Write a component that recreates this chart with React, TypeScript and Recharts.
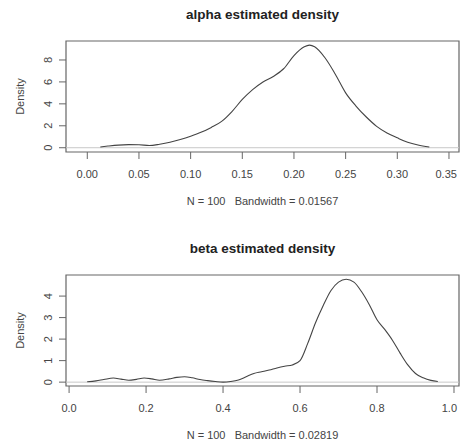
import {
  LineChart,
  Line,
  XAxis,
  YAxis,
  ReferenceArea,
  ReferenceLine,
  Label,
} from "recharts";

// alpha: kernel density estimate
const alphaX = [
  0.0126, 0.02, 0.03, 0.04, 0.05, 0.06, 0.07, 0.08, 0.09, 0.1, 0.11, 0.12, 0.13,
  0.14, 0.15, 0.16, 0.17, 0.18, 0.19, 0.2, 0.21, 0.215, 0.22, 0.23, 0.24, 0.25,
  0.26, 0.27, 0.28, 0.29, 0.3, 0.31, 0.32, 0.331,
];
const alphaDensity = [
  0.07, 0.15, 0.24, 0.28, 0.27, 0.2, 0.32, 0.5, 0.75, 1.05, 1.4, 1.85, 2.4, 3.3,
  4.4, 5.3, 6.0, 6.5, 7.2, 8.4, 9.2, 9.35, 9.2, 8.2, 6.7, 5.0, 3.8, 2.8, 1.95,
  1.35, 0.9, 0.5, 0.25, 0.07,
];
const alphaTicksX = [0, 0.05, 0.1, 0.15, 0.2, 0.25, 0.3, 0.35];
const alphaTicksY = [0, 2, 4, 6, 8];

// beta
const betaX = [
  0.047, 0.07, 0.09, 0.115, 0.135, 0.155, 0.175, 0.195, 0.215, 0.235, 0.26,
  0.28, 0.3, 0.32, 0.34, 0.36, 0.38, 0.4, 0.42, 0.44, 0.46, 0.48, 0.5, 0.52,
  0.54, 0.56, 0.58, 0.6, 0.62, 0.64, 0.66, 0.68, 0.7, 0.72, 0.74, 0.76, 0.78,
  0.8, 0.82, 0.84, 0.86, 0.88, 0.9, 0.92, 0.94, 0.958,
];
const betaDensity = [
  0.02, 0.06, 0.12, 0.19, 0.14, 0.09, 0.13, 0.19, 0.15, 0.09, 0.15, 0.22, 0.25,
  0.2, 0.12, 0.07, 0.03, 0.0, 0.03, 0.1, 0.25, 0.4, 0.48, 0.56, 0.66, 0.74,
  0.8, 1.0, 1.8, 2.75, 3.55, 4.25, 4.65, 4.78, 4.65, 4.2, 3.6, 2.9, 2.45, 1.95,
  1.35, 0.8, 0.4, 0.2, 0.08, 0.03,
];
const betaTicksX = [0, 0.2, 0.4, 0.6, 0.8, 1.0];
const betaTicksY = [0, 1, 2, 3, 4];

const FONT = "'Liberation Sans', Arial, sans-serif";
const INK = "#444";

function YTick(props: any) {
  const { x, y, payload } = props;
  return (
    <text
      transform={`translate(${x - 9},${y}) rotate(-90)`}
      textAnchor="middle"
      dy="0.35em"
      fontSize={11}
      fontFamily={FONT}
      fill={INK}
    >
      {payload.value}
    </text>
  );
}

// x tick text, kept inside the window at the right edge
function makeXTick(digits: number) {
  return function XTick(props: any) {
    const { x, y, payload } = props;
    const s = Number(payload.value).toFixed(digits);
    const half = s.length * 3.2;
    const cx = Math.min(x, 459 - half);
    return (
      <text
        x={cx}
        y={y}
        dy="0.71em"
        textAnchor="middle"
        fontSize={11}
        fontFamily={FONT}
        fill={INK}
      >
        {s}
      </text>
    );
  };
}

function DensityLabel(props: any) {
  const vb = props.viewBox;
  const cx = vb.x + 20;
  const cy = vb.y + vb.height / 2;
  return (
    <text
      transform={`translate(${cx},${cy}) rotate(-90)`}
      textAnchor="middle"
      dy="0.35em"
      fontSize={11}
      fontFamily={FONT}
      fill={INK}
    >
      Density
    </text>
  );
}

function makeSubLabel(sub: string) {
  return function SubLabel(props: any) {
    const vb = props.viewBox;
    return (
      <text
        x={vb.x + vb.width / 2}
        y={vb.y + 49}
        dy="0.35em"
        textAnchor="middle"
        xmlSpace="preserve"
        style={{ whiteSpace: "pre" }}
        fontSize={11}
        fontFamily={FONT}
        fill={INK}
      >
        {sub}
      </text>
    );
  };
}

interface PanelProps {
  title: string;
  sub: string;
  xs: number[];
  ys: number[];
  xDomain: [number, number];
  yDomain: [number, number];
  xTicks: number[];
  yTicks: number[];
  digits: number;
  height: number;
  top: number;
}

function DensityPanel(p: PanelProps) {
  const data = p.xs.map((x, i) => ({ x, d: p.ys[i] }));
  const xAxisH = p.height - p.top - 111;
  return (
    <div style={{ position: "relative", width: 460, height: p.height }}>
      <div
        style={{
          position: "absolute",
          left: 66,
          width: 393,
          top: p.top - 34,
          textAlign: "center",
          fontFamily: FONT,
          fontWeight: "bold",
          fontSize: 13.5,
          lineHeight: "15px",
          color: "#222",
        }}
      >
        {p.title}
      </div>
      <LineChart
        width={460}
        height={p.height}
        data={data}
        margin={{ top: p.top, right: 1, left: 0, bottom: 0 }}
      >
        <XAxis
          type="number"
          dataKey="x"
          domain={p.xDomain}
          allowDataOverflow
          ticks={p.xTicks}
          tickSize={7}
          tickMargin={11}
          axisLine={false}
          tickLine={{ stroke: "#666" }}
          tick={makeXTick(p.digits)}
          height={xAxisH}
          interval={0}
        >
          <Label content={makeSubLabel(p.sub)} />
        </XAxis>
        <YAxis
          type="number"
          domain={p.yDomain}
          allowDataOverflow
          ticks={p.yTicks}
          tickSize={7}
          axisLine={false}
          tickLine={{ stroke: "#666" }}
          tick={YTick}
          width={66}
          interval={0}
        >
          <Label content={DensityLabel} />
        </YAxis>
        <ReferenceLine y={0} stroke="#c8c8c8" strokeWidth={1} />
        <ReferenceArea
          x1={p.xDomain[0]}
          x2={p.xDomain[1]}
          y1={p.yDomain[0]}
          y2={p.yDomain[1]}
          fill="none"
          stroke="#666"
          strokeWidth={1.2}
          ifOverflow="visible"
        />
        <Line
          type="monotone"
          dataKey="d"
          stroke="#444"
          strokeWidth={1.1}
          dot={false}
          isAnimationActive={false}
        />
      </LineChart>
    </div>
  );
}

export default function App() {
  return (
    <div
      style={{
        position: "absolute",
        left: 0,
        top: 0,
        width: 460,
        height: 445,
        background: "#fff",
        overflow: "hidden",
      }}
    >
      <DensityPanel
        title="alpha estimated density"
        sub="N = 100   Bandwidth = 0.01567"
        xs={alphaX}
        ys={alphaDensity}
        xDomain={[-0.0206, 0.3597]}
        yDomain={[-0.39, 9.73]}
        xTicks={alphaTicksX}
        yTicks={alphaTicksY}
        digits={2}
        height={220}
        top={41}
      />
      <DensityPanel
        title="beta estimated density"
        sub="N = 100   Bandwidth = 0.02819"
        xs={betaX}
        ys={betaDensity}
        xDomain={[-0.008, 1.013]}
        yDomain={[-0.18, 4.98]}
        xTicks={betaTicksX}
        yTicks={betaTicksY}
        digits={1}
        height={225}
        top={55}
      />
    </div>
  );
}
